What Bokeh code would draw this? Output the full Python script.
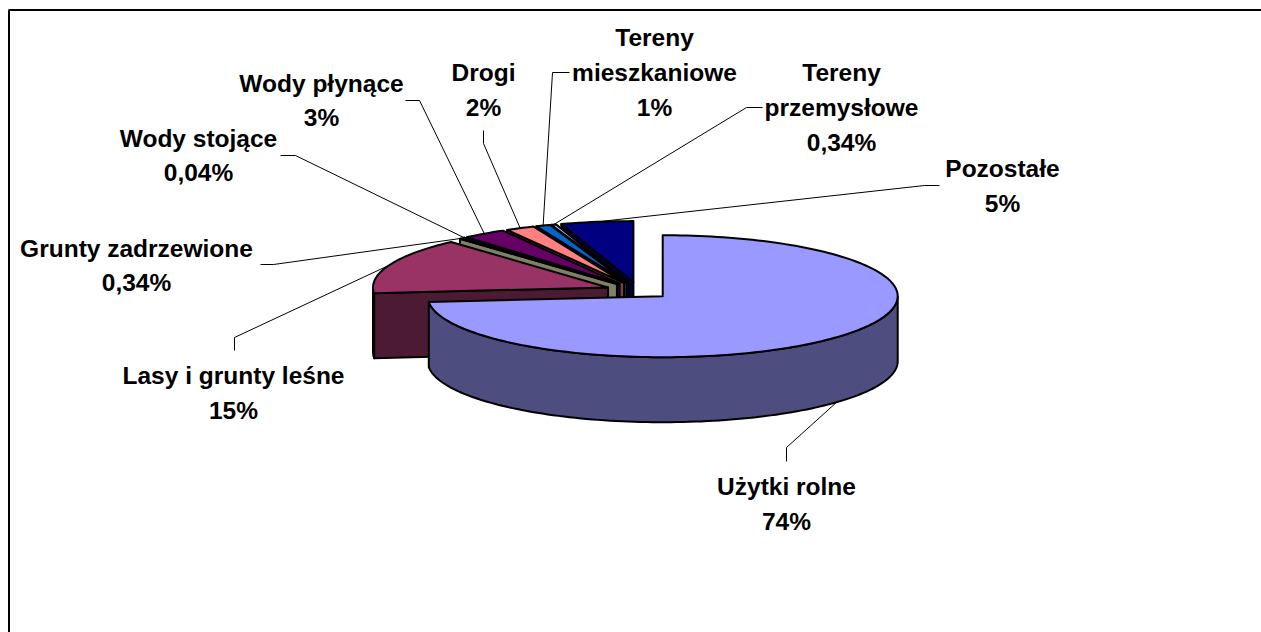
import math
from bokeh.plotting import figure
from bokeh.models import ColumnDataSource, Range1d
from bokeh.core.properties import value
from bokeh.embed import file_html
from bokeh.resources import INLINE

# ---- data ----
categories = ["Użytki rolne", "Lasy i grunty leśne", "Grunty zadrzewione", "Wody stojące",
              "Wody płynące", "Drogi", "Tereny mieszkaniowe", "Tereny przemysłowe", "Pozostałe"]
values = [74, 15, 0.34, 0.04, 3, 2, 1, 0.34, 5]
percent_labels = ["74%", "15%", "0,34%", "0,04%", "3%", "2%", "1%", "0,34%", "5%"]
top_colors = ["#9999FF", "#993366", "#FFFFCC", "#CCFFFF", "#660066", "#FF8080", "#0066CC", "#CCCCFF", "#000080"]
side_colors = ["#4D4D80", "#4D1A33", "#808066", "#668080", "#330033", "#804040", "#003366", "#666680", "#000040"]

# ---- layout (page pixels) ----
W, H = 1261, 632
CX, CY, RX, RY, DEPTH, EXPLODE = 638, 290, 235, 61, 65, 32.7
label_lines = [
    (["Użytki rolne", "74%"], 786, [486, 521]),
    (["Lasy i grunty leśne", "15%"], 233, [375, 410]),
    (["Grunty zadrzewione", "0,34%"], 136, [248, 282]),
    (["Wody stojące", "0,04%"], 198, [138, 172]),
    (["Wody płynące", "3%"], 321, [83, 117]),
    (["Drogi", "2%"], 483, [72, 107]),
    (["Tereny", "mieszkaniowe", "1%"], 654, [37, 72, 107]),
    (["Tereny", "przemysłowe", "0,34%"], 841, [72, 107, 142]),
    (["Pozostałe", "5%"], 1002, [168, 203]),
]
leader_elbows = [
    [(786, 461), (786, 447)],
    [(234, 350), (234, 337)],
    [(260, 264), (273, 264)],
    [(280, 155), (295, 155)],
    [(405, 100), (419, 100)],
    [(483, 130), (483, 143)],
    [(569, 72), (552, 72)],
    [(762, 107), (746, 107)],
    [(939, 185), (924, 185)],
]

total = sum(values)
slices = []
a = 0.0
for v in values:
    b = a + v / total * 360
    mid = math.radians((a + b) / 2)
    slices.append((a, b, CX + EXPLODE * math.sin(mid), CY - EXPLODE * RY / RX * math.cos(mid)))
    a = b


def rim(cx, cy, deg, dy=0.0):
    r = math.radians(deg)
    return cx + RX * math.sin(r), cy - RY * math.cos(r) + dy


def arc(cx, cy, a0, a1, dy=0.0):
    n = max(2, int(abs(a1 - a0) / 1.5) + 2)
    return [rim(cx, cy, a0 + (a1 - a0) * i / (n - 1), dy) for i in range(n)]


xs, ys, fills = [], [], []


def add(points, color):
    xs.append([q[0] for q in points])
    ys.append([q[1] for q in points])
    fills.append(color)


order = list(range(1, len(values)))[::-1] + [0]
for i in order:
    a0, a1, cx, cy = slices[i]
    if math.sin(math.radians(a0)) < -1e-9:
        p0 = rim(cx, cy, a0)
        add([(cx, cy), p0, (p0[0], p0[1] + DEPTH), (cx, cy + DEPTH)], side_colors[i])
    if math.sin(math.radians(a1)) > 1e-9:
        p1 = rim(cx, cy, a1)
        add([(cx, cy), p1, (p1[0], p1[1] + DEPTH), (cx, cy + DEPTH)], side_colors[i])
    w0, w1 = max(a0, 90), min(a1, 270)
    if w1 > w0:
        add(arc(cx, cy, w0, w1) + arc(cx, cy, w1, w0, DEPTH), side_colors[i])
    add([(cx, cy)] + arc(cx, cy, a0, a1), top_colors[i])

p = figure(width=W, height=H, output_backend="svg", toolbar_location=None,
           x_range=Range1d(0, W), y_range=Range1d(H, 0),
           min_border=0, outline_line_color=None, background_fill_color="white",
           border_fill_color="white", x_axis_type=None, y_axis_type=None)
p.grid.visible = False

# chart frame: only top and left edges fall inside the picture
p.line([8.5, 8.5, W], [H, 9.6, 9.6], line_color="black", line_width=2)

p.patches("xs", "ys", source=ColumnDataSource(dict(xs=xs, ys=ys, c=fills)),
          fill_color="c", line_color="black", line_width=2, line_join="round")

lx, ly = [], []
for i, elbow in enumerate(leader_elbows):
    a0, a1, cx, cy = slices[i]
    mid = (a0 + a1) / 2
    dy = DEPTH if 90 <= mid <= 270 else 0
    end = rim(cx, cy, mid, dy)
    lx.append([elbow[0][0], elbow[1][0], end[0]])
    ly.append([elbow[0][1], elbow[1][1], end[1]])
p.multi_line(lx, ly, line_color="black", line_width=1)

tx, ty, tt = [], [], []
for lines, x, yy in label_lines:
    for t, y in zip(lines, yy):
        tx.append(x)
        ty.append(y)
        tt.append(t)
p.text(tx, ty, text=tt, text_font=value("Liberation Sans"), text_font_style="bold",
       text_font_size="24.5px", text_align="center", text_baseline="middle", text_color="black")

open("out.html", "w").write(file_html(p, INLINE))
